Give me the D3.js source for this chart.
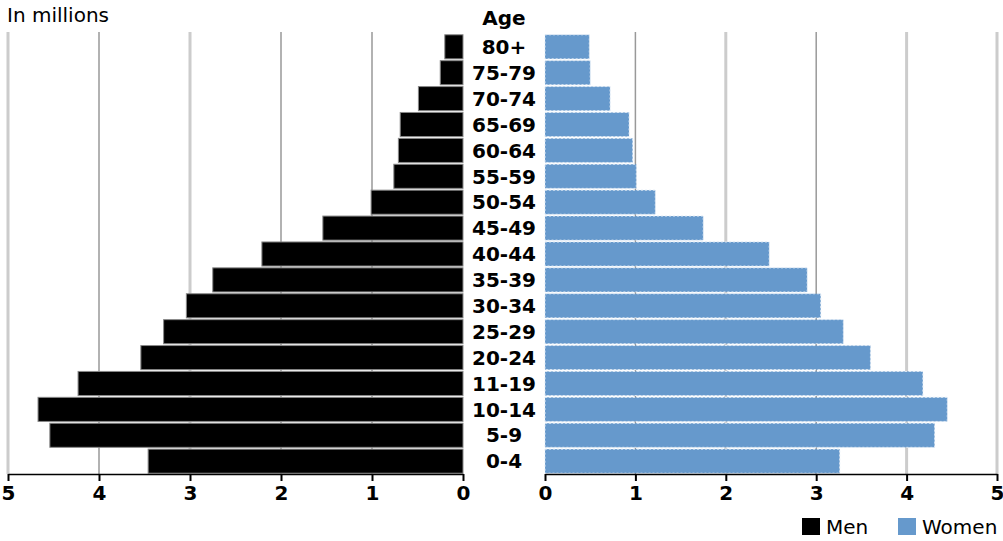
<!DOCTYPE html>
<html>
<head>
<meta charset="utf-8">
<script src="https://cdn.jsdelivr.net/npm/d3@7"></script>
<style>
  body { margin: 0; background: #fff; }
  text { font-family: "DejaVu Sans", "Open Sans", sans-serif; }
</style>
</head>
<body>
<div id="chart"></div>
<script>
// Age groups, top to bottom
var ages = ["80+", "75-79", "70-74", "65-69", "60-64", "55-59", "50-54", "45-49", "40-44",
            "35-39", "30-34", "25-29", "20-24", "11-19", "10-14", "5-9", "0-4"];
// Population in millions
var men   = [0.20, 0.25, 0.49, 0.69, 0.71, 0.76, 1.01, 1.54, 2.21,
             2.75, 3.04, 3.29, 3.54, 4.23, 4.67, 4.54, 3.46];
var women = [0.49, 0.50, 0.72, 0.93, 0.97, 1.01, 1.22, 1.75, 2.48,
             2.90, 3.05, 3.30, 3.60, 4.18, 4.45, 4.31, 3.26];
var ticks = [0, 1, 2, 3, 4, 5];

var width = 1003, height = 541;
var plotTop = 34, plotBottom = 474;

var svg = d3.select("#chart")
  .append("svg")
    .attr("width", width)
    .attr("height", height);

// Scales
var xLeft = d3.scaleLinear().domain([0, 5]).range([463, 8]);
var xRight = d3.scaleLinear().domain([0, 5]).range([545, 997]);
var y = d3.scaleBand().domain(ages).range([plotTop, plotBottom]).paddingInner(0.07).paddingOuter(0.03);

// Gridlines (some darker thin, some light thick as in the original)
var darkLeft = [4, 2, 1], darkRight = [1, 3];
function grid(scale, dark) {
  svg.append("g").selectAll("line")
    .data(ticks.filter(function(d) { return d > 0; }))
    .enter()
    .append("line")
      .attr("x1", function(d) { return scale(d); })
      .attr("x2", function(d) { return scale(d); })
      .attr("y1", 32)
      .attr("y2", plotBottom)
      .attr("stroke", function(d) { return dark.indexOf(d) >= 0 ? "#999" : "#ccc"; })
      .attr("stroke-width", function(d) { return dark.indexOf(d) >= 0 ? 1.5 : 3; });
}
grid(xLeft, darkLeft);
grid(xRight, darkRight);

// Men bars
svg.append("g").selectAll("rect")
  .data(men)
  .enter()
  .append("rect")
    .attr("x", function(d) { return xLeft(d); })
    .attr("y", function(d, i) { return y(ages[i]); })
    .attr("width", function(d) { return xLeft(0) - xLeft(d); })
    .attr("height", y.bandwidth())
    .attr("fill", "#000")
    .attr("stroke", "#888")
    .attr("stroke-width", 1);

// Women bars
svg.append("g").selectAll("rect")
  .data(women)
  .enter()
  .append("rect")
    .attr("x", xRight(0))
    .attr("y", function(d, i) { return y(ages[i]); })
    .attr("width", function(d) { return xRight(d) - xRight(0); })
    .attr("height", y.bandwidth())
    .attr("fill", "#6699cc")
    .attr("stroke", "#dde8f4")
    .attr("stroke-width", 1)
    .attr("stroke-dasharray", "2,2");

// Age labels
svg.append("g").selectAll("text")
  .data(ages)
  .enter()
  .append("text")
    .attr("x", 504)
    .attr("y", function(d) { return y(d) + y.bandwidth() / 2; })
    .attr("dy", "0.36em")
    .attr("text-anchor", "middle")
    .attr("font-size", 20)
    .attr("font-weight", "bold")
    .text(function(d) { return d; });

svg.append("text")
  .attr("x", 504).attr("y", 25)
  .attr("text-anchor", "middle")
  .attr("font-size", 20).attr("font-weight", "bold")
  .text("Age");

svg.append("text")
  .attr("x", 7).attr("y", 22)
  .attr("font-size", 20)
  .text("In millions");

// Axes
function axis(scale) {
  var g = svg.append("g")
    .attr("transform", "translate(0," + plotBottom + ")")
    .call(d3.axisBottom(scale).tickValues(ticks).tickFormat(d3.format("d"))
      .tickSize(7).tickSizeOuter(0).tickPadding(5));
  g.select(".domain").attr("stroke", "#000").attr("stroke-width", 1.5);
  g.selectAll(".tick line").attr("stroke", "#000").attr("stroke-width", 2);
  g.selectAll(".tick text")
    .attr("font-family", "'DejaVu Sans', 'Open Sans', sans-serif")
    .attr("font-size", 20).attr("font-weight", "bold").attr("fill", "#000");
}
axis(xLeft);
axis(xRight);

// Legend
var legend = [["Men", "#000", 802], ["Women", "#6699cc", 898]];
var lg = svg.append("g").selectAll("g")
  .data(legend)
  .enter()
  .append("g")
    .attr("transform", function(d) { return "translate(" + d[2] + ",518)"; });
lg.append("rect").attr("width", 18).attr("height", 17).attr("fill", function(d) { return d[1]; });
lg.append("text").attr("x", 24).attr("y", 16).attr("font-size", 20).text(function(d) { return d[0]; });
</script>
</body>
</html>
